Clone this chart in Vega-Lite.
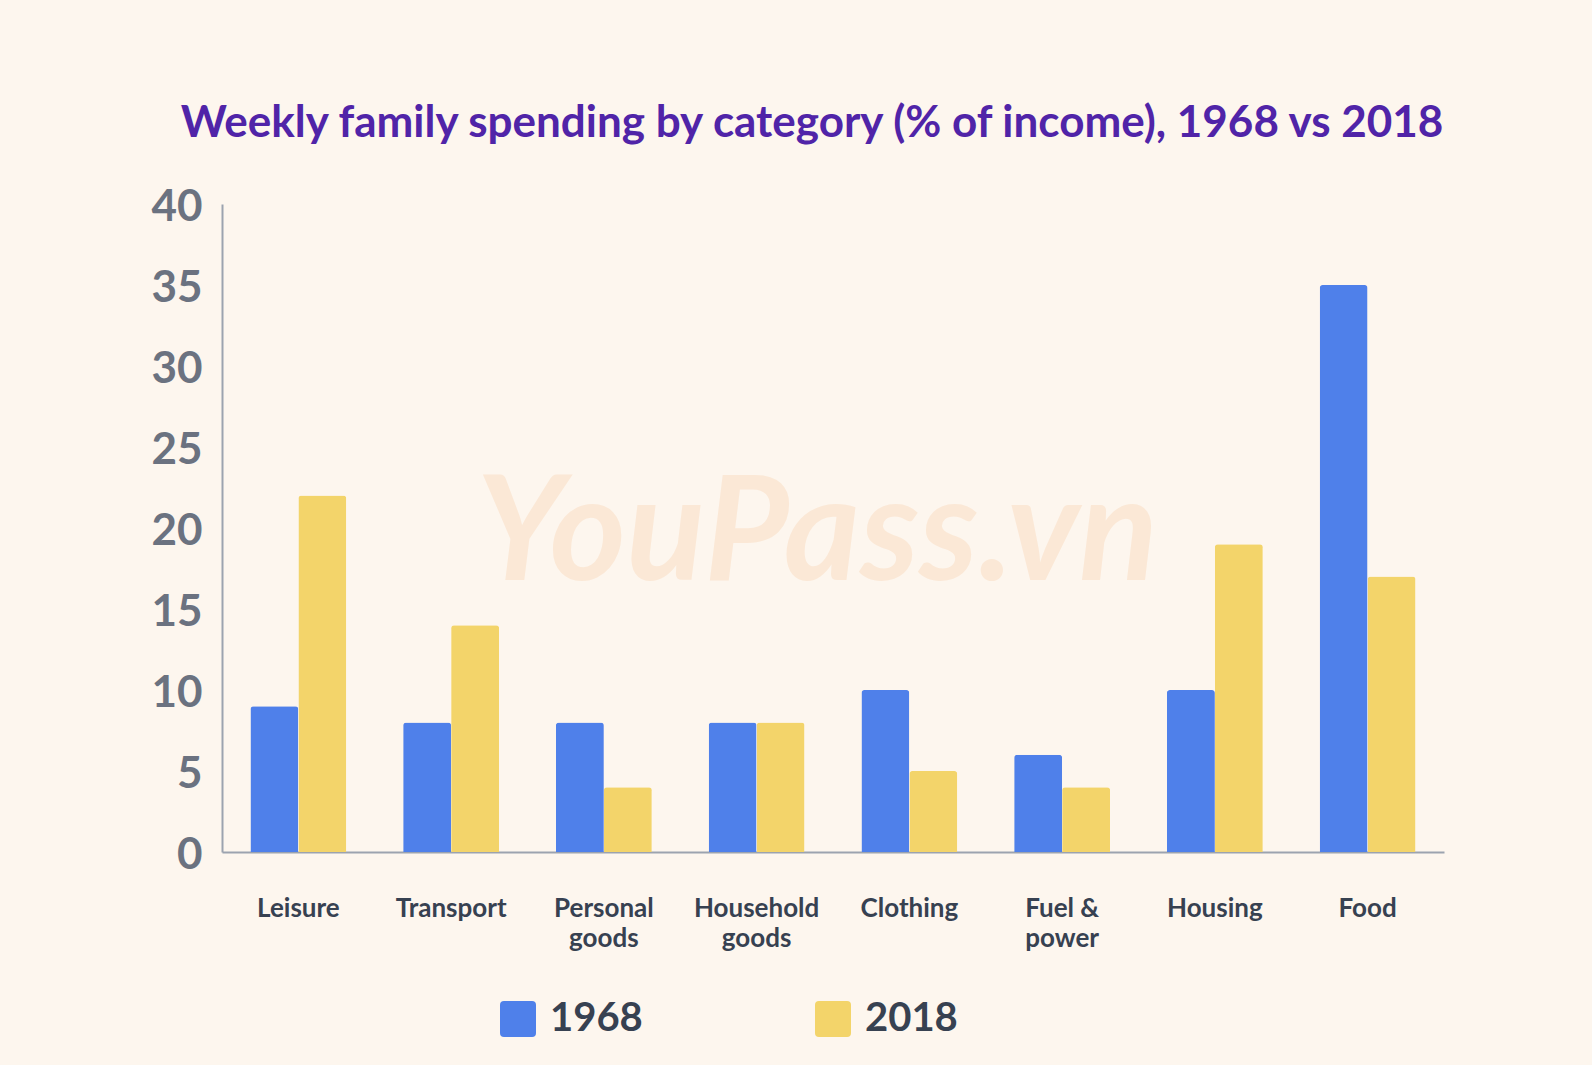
{
  "$schema": "https://vega.github.io/schema/vega-lite/v6.json",
  "autosize": {"type": "none"},
  "width": 1222,
  "height": 648,
  "padding": {"left": 222, "top": 204, "right": 148, "bottom": 213},
  "background": "#fdf6ee",
  "title": {
    "text": "Weekly family spending by category (% of income), 1968 vs 2018",
    "anchor": "middle",
    "frame": "group",
    "dx": -21,
    "offset": 39,
    "font": "Lato",
    "fontSize": 44,
    "fontWeight": "bold",
    "color": "#5024a8"
  },
  "data": {
    "values": [
      {"category": "Leisure", "year": "1968", "percent": 9},
      {"category": "Leisure", "year": "2018", "percent": 22},
      {"category": "Transport", "year": "1968", "percent": 8},
      {"category": "Transport", "year": "2018", "percent": 14},
      {"category": "Personal goods", "year": "1968", "percent": 8},
      {"category": "Personal goods", "year": "2018", "percent": 4},
      {"category": "Household goods", "year": "1968", "percent": 8},
      {"category": "Household goods", "year": "2018", "percent": 8},
      {"category": "Clothing", "year": "1968", "percent": 10},
      {"category": "Clothing", "year": "2018", "percent": 5},
      {"category": "Fuel & power", "year": "1968", "percent": 6},
      {"category": "Fuel & power", "year": "2018", "percent": 4},
      {"category": "Housing", "year": "1968", "percent": 10},
      {"category": "Housing", "year": "2018", "percent": 19},
      {"category": "Food", "year": "1968", "percent": 35},
      {"category": "Food", "year": "2018", "percent": 17}
    ]
  },
  "layer": [
    {
      "data": {"values": [{"wm": "YouPass.vn"}]},
      "mark": {
        "type": "text",
        "x": {"expr": "width/2 - 16"},
        "dy": 8,
        "font": "Lato",
        "fontSize": 146,
        "fontWeight": "bold",
        "fontStyle": "italic",
        "color": "#fbe8d6",
        "align": "center",
        "baseline": "middle"
      },
      "encoding": {
        "text": {"field": "wm"},
        "y": {"datum": 20, "type": "quantitative"}
      }
    },
    {
      "mark": {"type": "bar", "cornerRadiusTopLeft": 3, "cornerRadiusTopRight": 3},
      "encoding": {
        "x": {
          "field": "category",
          "type": "nominal",
          "sort": null,
          "scale": {"paddingInner": 0.372, "paddingOuter": 0.186},
          "axis": {
            "title": null,
            "labelAngle": 0,
            "labelFont": "Lato",
            "labelFontSize": 26,
            "labelFontWeight": "bold",
            "labelColor": "#374151",
            "labelPadding": 43,
            "labelLineHeight": 30,
            "labelBaseline": "top",
            "labelExpr": "datum.label == 'Fuel & power' ? ['Fuel &', 'power'] : split(datum.label, ' ')",
            "ticks": false,
            "domainColor": "#9ca3af",
            "domainWidth": 2,
            "grid": false
          }
        },
        "xOffset": {"field": "year", "type": "nominal", "scale": {"paddingInner": 0, "paddingOuter": 0}},
        "y": {
          "field": "percent",
          "type": "quantitative",
          "scale": {"domain": [0, 40], "nice": false},
          "axis": {
            "title": null,
            "values": [0, 5, 10, 15, 20, 25, 30, 35, 40],
            "labelFont": "Lato",
            "labelFontSize": 44,
            "labelFontWeight": "bold",
            "labelColor": "#6b7280",
            "labelPadding": 20,
            "labelOffset": 3,
            "ticks": false,
            "domainColor": "#9ca3af",
            "domainWidth": 2,
            "gridColor": "#e6e6ea",
            "gridWidth": 1.5
          }
        },
        "color": {
          "field": "year",
          "type": "nominal",
          "scale": {"domain": ["1968", "2018"], "range": ["#4f80ea", "#f3d46a"]},
          "legend": {
            "title": null,
            "orient": "none",
            "direction": "horizontal",
            "legendX": 276,
            "legendY": 795,
            "padding": 0,
            "symbolType": "M-1,-0.78 Q-1,-1 -0.78,-1 L0.78,-1 Q1,-1 1,-0.78 L1,0.78 Q1,1 0.78,1 L-0.78,1 Q-1,1 -1,0.78 Z",
            "symbolSize": 1296,
            "symbolStrokeWidth": 0,
            "symbolOpacity": 1,
            "labelFont": "Lato",
            "labelFontSize": 40,
            "labelFontWeight": "bold",
            "labelColor": "#374151",
            "labelOffset": 12,
            "columnPadding": 170
          }
        }
      }
    }
  ],
  "config": {
    "view": {"stroke": null}
  }
}
